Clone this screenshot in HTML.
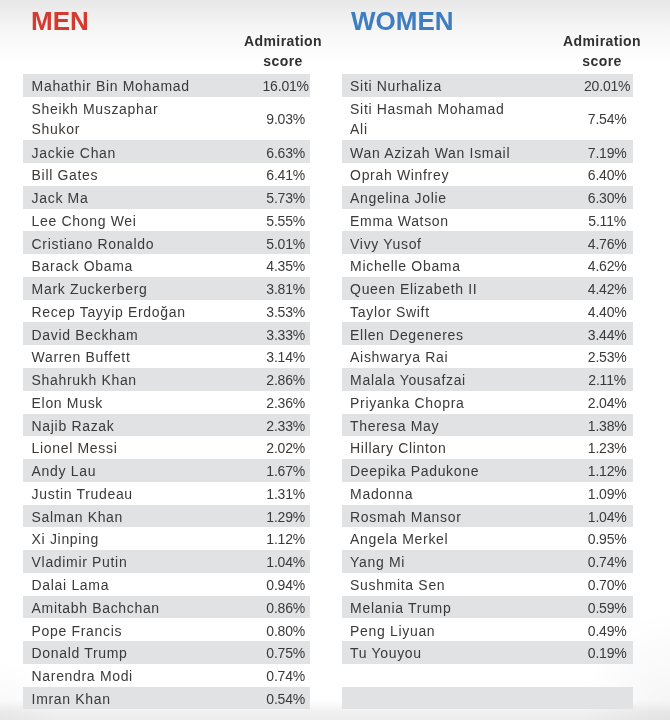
<!DOCTYPE html>
<html><head><meta charset="utf-8">
<style>
html,body{margin:0;padding:0}
body{width:670px;height:720px;position:relative;overflow:hidden;-webkit-font-smoothing:antialiased;font-family:"Liberation Sans",sans-serif;
background:linear-gradient(to bottom,#e7e7e7 0px,#f6f6f6 30px,#ffffff 62px,#ffffff 700px,#f1f1f1 711px,#ececec 720px);}
.vig{position:absolute;left:0;top:0;width:670px;height:720px;background:radial-gradient(ellipse 90px 110px at 100% 100%,rgba(0,0,0,0.045),rgba(0,0,0,0) 100%),radial-gradient(ellipse 60px 60px at 0% 100%,rgba(0,0,0,0.03),rgba(0,0,0,0) 100%)}
.title{position:absolute;top:5.8px;will-change:transform;font-weight:bold;font-size:26px;line-height:30px;margin:0}
.men{left:31.2px;color:#d33b30}
.women{left:351.2px;color:#3f7dc1}
.hd{position:absolute;top:30.5px;will-change:transform;letter-spacing:0.4px;width:100px;text-align:center;font-weight:bold;font-size:14px;line-height:20.2px;color:#303030}
.t{position:absolute;top:0;height:720px;will-change:transform}
.tm{left:23px;width:287px}
.tw{left:342px;width:291px}
.r{position:absolute;left:0;right:0;color:#3a3a3a;font-size:14px;letter-spacing:0.67px}
.r.g{background:#e1e2e4}
.r .n{position:absolute;left:8.6px;top:2.15px;line-height:20.2px;white-space:nowrap}
.r .s{position:absolute;width:70px;text-align:center;top:2.15px;line-height:20.2px;letter-spacing:-0.2px;text-indent:0.2px}
.r.two .s{top:12.4px}
.tm .s{left:227.6px}
.tw .n{left:8.1px}
.tw .s{left:230.1px}
</style></head><body>
<div class="vig"></div>
<div class="title men">MEN</div>
<div class="title women">WOMEN</div>
<div class="hd" style="left:232.5px">Admiration<br>score</div>
<div class="hd" style="left:551.7px">Admiration<br>score</div>
<div class="t tm"><div class="r g" style="top:74.00px;height:22.75px"><span class="n">Mahathir Bin Mohamad</span><span class="s">16.01%</span></div>
<div class="r two" style="top:96.75px;height:43.65px"><span class="n">Sheikh Muszaphar<br>Shukor</span><span class="s">9.03%</span></div>
<div class="r g" style="top:140.40px;height:22.76px"><span class="n">Jackie Chan</span><span class="s">6.63%</span></div>
<div class="r" style="top:163.16px;height:22.76px"><span class="n">Bill Gates</span><span class="s">6.41%</span></div>
<div class="r g" style="top:185.92px;height:22.76px"><span class="n">Jack Ma</span><span class="s">5.73%</span></div>
<div class="r" style="top:208.68px;height:22.76px"><span class="n">Lee Chong Wei</span><span class="s">5.55%</span></div>
<div class="r g" style="top:231.44px;height:22.76px"><span class="n">Cristiano Ronaldo</span><span class="s">5.01%</span></div>
<div class="r" style="top:254.20px;height:22.76px"><span class="n">Barack Obama</span><span class="s">4.35%</span></div>
<div class="r g" style="top:276.96px;height:22.76px"><span class="n">Mark Zuckerberg</span><span class="s">3.81%</span></div>
<div class="r" style="top:299.72px;height:22.76px"><span class="n">Recep Tayyip Erdoğan</span><span class="s">3.53%</span></div>
<div class="r g" style="top:322.48px;height:22.76px"><span class="n">David Beckham</span><span class="s">3.33%</span></div>
<div class="r" style="top:345.24px;height:22.76px"><span class="n">Warren Buffett</span><span class="s">3.14%</span></div>
<div class="r g" style="top:368.00px;height:22.76px"><span class="n">Shahrukh Khan</span><span class="s">2.86%</span></div>
<div class="r" style="top:390.76px;height:22.76px"><span class="n">Elon Musk</span><span class="s">2.36%</span></div>
<div class="r g" style="top:413.52px;height:22.76px"><span class="n">Najib Razak</span><span class="s">2.33%</span></div>
<div class="r" style="top:436.28px;height:22.76px"><span class="n">Lionel Messi</span><span class="s">2.02%</span></div>
<div class="r g" style="top:459.04px;height:22.76px"><span class="n">Andy Lau</span><span class="s">1.67%</span></div>
<div class="r" style="top:481.80px;height:22.76px"><span class="n">Justin Trudeau</span><span class="s">1.31%</span></div>
<div class="r g" style="top:504.56px;height:22.76px"><span class="n">Salman Khan</span><span class="s">1.29%</span></div>
<div class="r" style="top:527.32px;height:22.76px"><span class="n">Xi Jinping</span><span class="s">1.12%</span></div>
<div class="r g" style="top:550.08px;height:22.76px"><span class="n">Vladimir Putin</span><span class="s">1.04%</span></div>
<div class="r" style="top:572.84px;height:22.76px"><span class="n">Dalai Lama</span><span class="s">0.94%</span></div>
<div class="r g" style="top:595.60px;height:22.76px"><span class="n">Amitabh Bachchan</span><span class="s">0.86%</span></div>
<div class="r" style="top:618.36px;height:22.76px"><span class="n">Pope Francis</span><span class="s">0.80%</span></div>
<div class="r g" style="top:641.12px;height:22.76px"><span class="n">Donald Trump</span><span class="s">0.75%</span></div>
<div class="r" style="top:663.88px;height:22.76px"><span class="n">Narendra Modi</span><span class="s">0.74%</span></div>
<div class="r g" style="top:686.64px;height:22.76px"><span class="n">Imran Khan</span><span class="s">0.54%</span></div></div>
<div class="t tw"><div class="r g" style="top:74.00px;height:22.75px"><span class="n">Siti Nurhaliza</span><span class="s">20.01%</span></div>
<div class="r two" style="top:96.75px;height:43.65px"><span class="n">Siti Hasmah Mohamad<br>Ali</span><span class="s">7.54%</span></div>
<div class="r g" style="top:140.40px;height:22.76px"><span class="n">Wan Azizah Wan Ismail</span><span class="s">7.19%</span></div>
<div class="r" style="top:163.16px;height:22.76px"><span class="n">Oprah Winfrey</span><span class="s">6.40%</span></div>
<div class="r g" style="top:185.92px;height:22.76px"><span class="n">Angelina Jolie</span><span class="s">6.30%</span></div>
<div class="r" style="top:208.68px;height:22.76px"><span class="n">Emma Watson</span><span class="s">5.11%</span></div>
<div class="r g" style="top:231.44px;height:22.76px"><span class="n">Vivy Yusof</span><span class="s">4.76%</span></div>
<div class="r" style="top:254.20px;height:22.76px"><span class="n">Michelle Obama</span><span class="s">4.62%</span></div>
<div class="r g" style="top:276.96px;height:22.76px"><span class="n">Queen Elizabeth II</span><span class="s">4.42%</span></div>
<div class="r" style="top:299.72px;height:22.76px"><span class="n">Taylor Swift</span><span class="s">4.40%</span></div>
<div class="r g" style="top:322.48px;height:22.76px"><span class="n">Ellen Degeneres</span><span class="s">3.44%</span></div>
<div class="r" style="top:345.24px;height:22.76px"><span class="n">Aishwarya Rai</span><span class="s">2.53%</span></div>
<div class="r g" style="top:368.00px;height:22.76px"><span class="n">Malala Yousafzai</span><span class="s">2.11%</span></div>
<div class="r" style="top:390.76px;height:22.76px"><span class="n">Priyanka Chopra</span><span class="s">2.04%</span></div>
<div class="r g" style="top:413.52px;height:22.76px"><span class="n">Theresa May</span><span class="s">1.38%</span></div>
<div class="r" style="top:436.28px;height:22.76px"><span class="n">Hillary Clinton</span><span class="s">1.23%</span></div>
<div class="r g" style="top:459.04px;height:22.76px"><span class="n">Deepika Padukone</span><span class="s">1.12%</span></div>
<div class="r" style="top:481.80px;height:22.76px"><span class="n">Madonna</span><span class="s">1.09%</span></div>
<div class="r g" style="top:504.56px;height:22.76px"><span class="n">Rosmah Mansor</span><span class="s">1.04%</span></div>
<div class="r" style="top:527.32px;height:22.76px"><span class="n">Angela Merkel</span><span class="s">0.95%</span></div>
<div class="r g" style="top:550.08px;height:22.76px"><span class="n">Yang Mi</span><span class="s">0.74%</span></div>
<div class="r" style="top:572.84px;height:22.76px"><span class="n">Sushmita Sen</span><span class="s">0.70%</span></div>
<div class="r g" style="top:595.60px;height:22.76px"><span class="n">Melania Trump</span><span class="s">0.59%</span></div>
<div class="r" style="top:618.36px;height:22.76px"><span class="n">Peng Liyuan</span><span class="s">0.49%</span></div>
<div class="r g" style="top:641.12px;height:22.76px"><span class="n">Tu Youyou</span><span class="s">0.19%</span></div>
<div class="r" style="top:663.88px;height:22.76px"><span class="n"></span><span class="s"></span></div>
<div class="r g" style="top:686.64px;height:22.76px"><span class="n"></span><span class="s"></span></div></div>
</body></html>
